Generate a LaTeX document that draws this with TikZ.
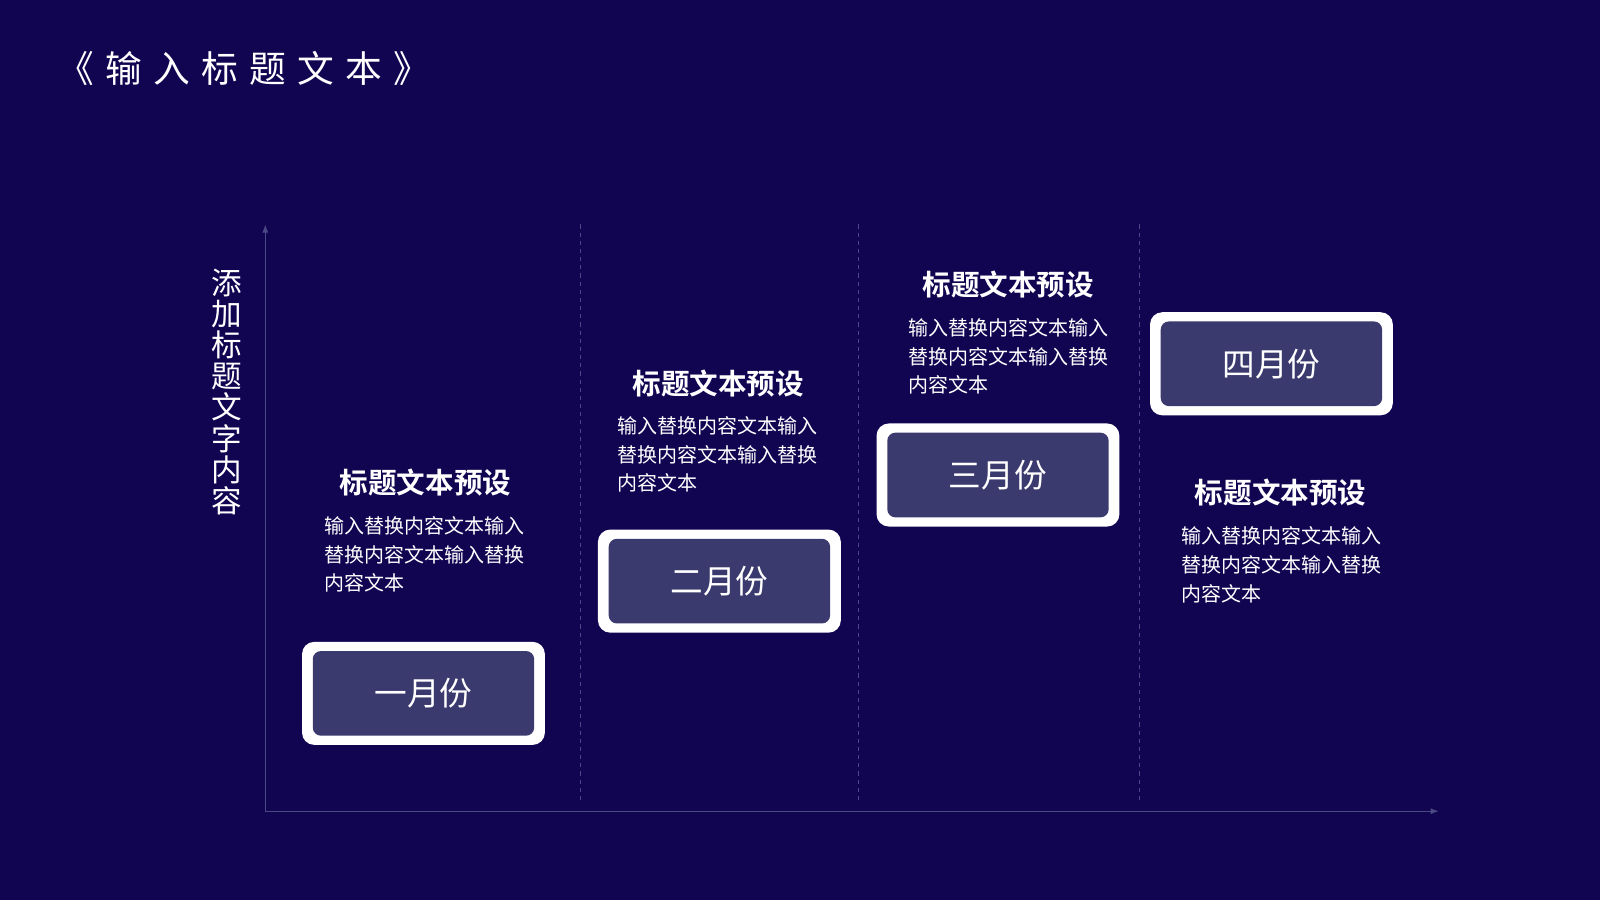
\documentclass[tikz,border=0pt]{standalone}
\usepackage{fontspec}
\newfontfamily\cjk[BoldFont={Noto Sans CJK SC Bold}]{Noto Sans CJK SC}
\usetikzlibrary{arrows.meta}
\definecolor{bg}{HTML}{110552}
\definecolor{boxin}{HTML}{3B3A6E}
\definecolor{axis}{HTML}{4C4A85}
\newcommand\tsp{\hspace{5.5pt}}
\tikzset{
  outerbox/.style={fill=white,rounded corners=6pt,minimum width=119pt,minimum height=50.5pt,inner sep=0pt},
  innerbox/.style={fill=boxin,rounded corners=4pt,minimum width=108.5pt,minimum height=41.5pt,inner sep=0pt,text=white,font=\cjk\fontsize{16}{18}\selectfont},
  head/.style={text=white,font=\cjk\bfseries\fontsize{14}{16}\selectfont,inner sep=0pt},
  body/.style={text=white,font=\cjk\fontsize{9.8}{14}\selectfont,align=left,anchor=north west,inner sep=0pt},
  axisline/.style={draw=axis,line width=0.6pt,-{Latex[length=4pt,width=3pt]}},
  divider/.style={draw=axis,dashed,line width=0.5pt,dash pattern=on 2pt off 2pt}
}
\begin{document}
\begin{tikzpicture}[x=0.5pt,y=-0.5pt]
\fill[bg] (0,0) rectangle (1568,882);
\useasboundingbox (0,0) rectangle (1568,882);
\node[text=white,font=\cjk\fontsize{18}{20}\selectfont,anchor=west,inner sep=0pt] (title) at (56,67) {《\tsp 输\tsp 入\tsp 标\tsp 题\tsp 文\tsp 本\tsp 》};
\coordinate (o) at (260,795);
\coordinate (yt) at (260,220);
\coordinate (xr) at (1410,795);
\draw[axisline] (o) -- (yt);
\draw[axisline] (o) -- (xr);
\foreach \x/\n in {569/a,841/b,1117/c}{
  \coordinate (d\n t) at (\x,220); \coordinate (d\n b) at (\x,785);
  \draw[divider] (d\n t) -- (d\n b);}
\node[text=white,font=\cjk\fontsize{15}{15.3}\selectfont,align=center,inner sep=0pt] (ylab) at (222,384) {添\\加\\标\\题\\文\\字\\内\\容};
\foreach \cx/\cy/\t/\n in {415/679.5/一月份/1,705/569.5/二月份/2,978/465.5/三月份/3,1246/356.5/四月份/4}{
  \node[outerbox] (o\n) at (\cx,\cy) {};
  \node[innerbox] (i\n) at (\cx,\cy) {\t};}
\node[head] (h1) at (417,473) {标题文本预设};
\node[body] (b1) at (318,506) {输入替换内容文本输入\\替换内容文本输入替换\\内容文本};
\node[head] (h2) at (704,376) {标题文本预设};
\node[body] (b2) at (605,408) {输入替换内容文本输入\\替换内容文本输入替换\\内容文本};
\node[head] (h3) at (988,279) {标题文本预设};
\node[body] (b3) at (890,312) {输入替换内容文本输入\\替换内容文本输入替换\\内容文本};
\node[head] (h4) at (1255,483) {标题文本预设};
\node[body] (b4) at (1157,516) {输入替换内容文本输入\\替换内容文本输入替换\\内容文本};
\end{tikzpicture}
\end{document}
